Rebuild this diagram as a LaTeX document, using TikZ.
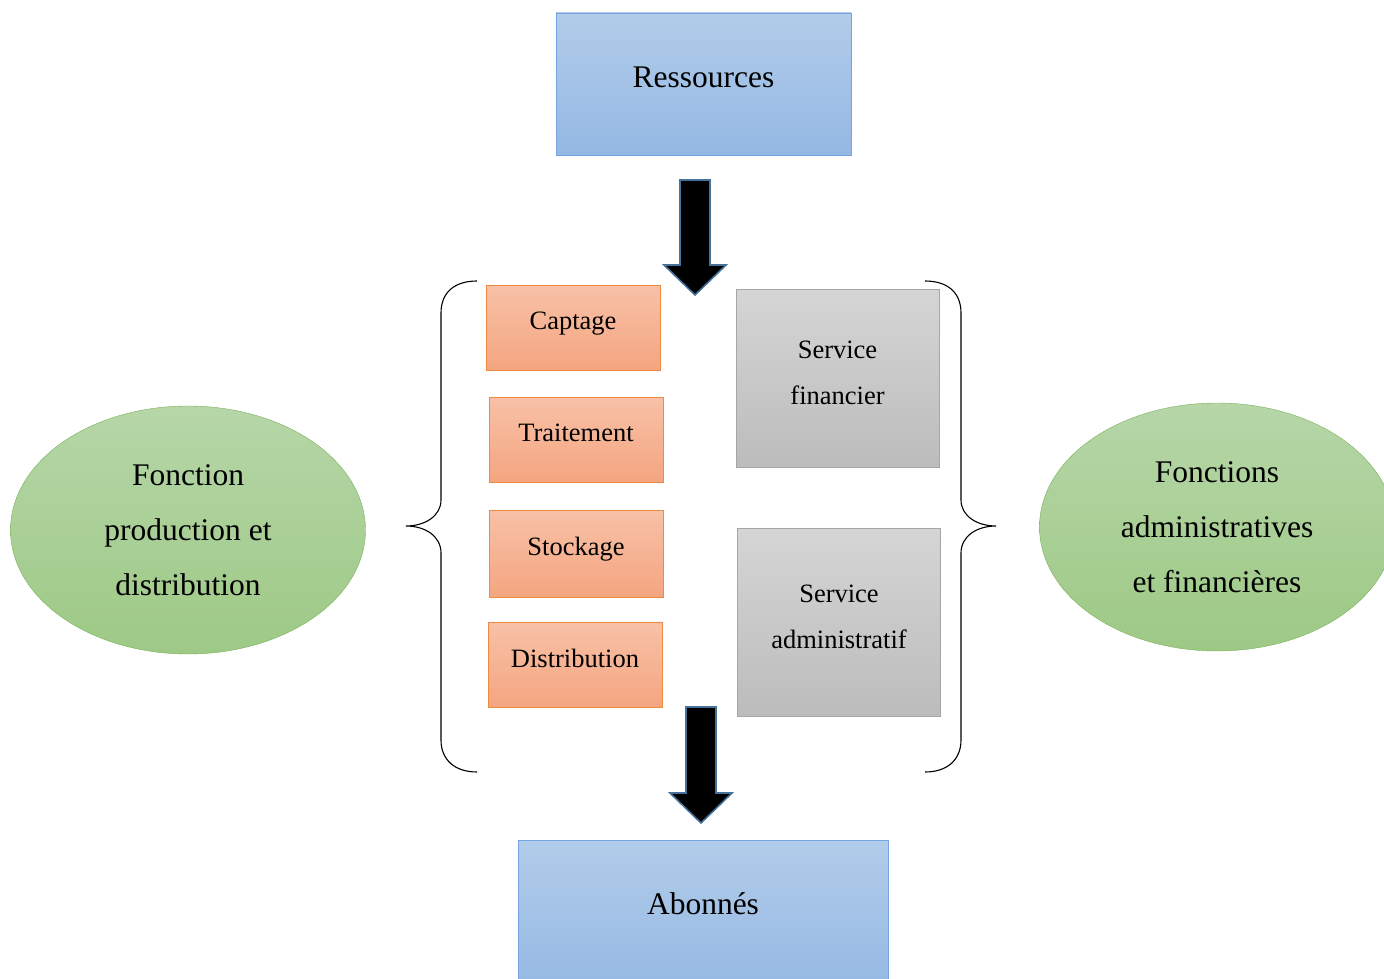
\documentclass[tikz,border=0pt]{standalone}
\usepackage{fontspec}
\setmainfont{Liberation Serif}
\usetikzlibrary{shapes.geometric}

\definecolor{blueTop}{HTML}{B2CCEA}
\definecolor{blueBot}{HTML}{94B8E3}
\definecolor{blueLine}{HTML}{74A5DF}
\definecolor{orangeTop}{HTML}{F8C1A7}
\definecolor{orangeBot}{HTML}{F4A580}
\definecolor{orangeLine}{HTML}{EF8A42}
\definecolor{greyTop}{HTML}{D5D5D5}
\definecolor{greyBot}{HTML}{BCBCBC}
\definecolor{greyLine}{HTML}{A6A6A6}
\definecolor{greenTop}{HTML}{B6D6A8}
\definecolor{greenBot}{HTML}{9DC985}
\definecolor{greenLine}{HTML}{7AB15A}
\definecolor{arrowLine}{HTML}{46719B}

\tikzset{
  endbox/.style={draw=blueLine, top color=blueTop, bottom color=blueBot,
    minimum width=#1, inner sep=0pt, font=\fontsize{31.5}{36}\selectfont},
  stagebox/.style={draw=orangeLine, top color=orangeTop, bottom color=orangeBot,
    minimum width=174pt, minimum height=#1, inner sep=0pt,
    text height=18pt, text depth=14pt,
    font=\fontsize{26.5}{30}\selectfont},
  servicebox/.style={draw=greyLine, top color=greyTop, bottom color=greyBot,
    minimum width=203pt, minimum height=#1, inner sep=0pt, align=center,
    text depth=10.5pt, font=\fontsize{26.5}{46}\selectfont},
  rolebubble/.style={ellipse, draw=greenLine, top color=greenTop, bottom color=greenBot,
    minimum width=355pt, minimum height=248pt, inner sep=0pt, align=center,
    font=\fontsize{31.5}{55}\selectfont},
  bigarrow/.style={draw=arrowLine, line width=1.6pt, fill=black, line join=miter},
  curly/.style={draw=black, line width=1.1pt}
}

% Block arrow pointing down: #1 start coordinate, #2 shaft length, #3 head length
\newcommand{\downblock}[3]{
  \draw[bigarrow] (#1) ++(-15,0) -- ++(30,0) -- ++(0,#2) -- ++(16,0)
    -- ++(-31,#3) -- ++(-31,-#3) -- ++(16,0) -- cycle;
}

% Curly brace: #1 end x, #2 side (-1 left, 1 right)
\newcommand{\sidebrace}[2]{
  \draw[curly] (#1,281) .. controls ({#1+#2*22},281) and ({#1+#2*36},292) .. ({#1+#2*36},313)
    -- ({#1+#2*36},500) .. controls ({#1+#2*36},516) and ({#1+#2*52},526) .. ({#1+#2*71},526)
    .. controls ({#1+#2*52},526) and ({#1+#2*36},536) .. ({#1+#2*36},553)
    -- ({#1+#2*36},740) .. controls ({#1+#2*36},760) and ({#1+#2*22},772) .. (#1,772);
}

\begin{document}
\begin{tikzpicture}[x=1pt, y=-1pt]

% Page frame
\clip (0,0) rectangle (1384,979);

% Input and output
\node[endbox=295pt, text height=75pt, text depth=67pt, anchor=base] (res) at (703.5,88) {Ressources};
\node[endbox=370pt, text height=74pt, text depth=80pt, anchor=base] (abo) at (703,914) {Abonnés};

% Production stages
\node[stagebox=85pt] (cap) at (573,327.5) {Captage};
\node[stagebox=85pt] (tra) at (576,439.5) {Traitement};
\node[stagebox=87pt] (sto) at (576,553.5) {Stockage};
\node[stagebox=85pt] (dis) at (575,665) {Distribution};

% Services
\node[servicebox=178pt] (fin) at (837.5,378) {Service\\financier};
\node[servicebox=188pt] (adm) at (839,622) {Service\\administratif};

% Functions
\node[rolebubble] (prod) at (188,530) {Fonction\\production et\\distribution};
\node[rolebubble] (admf) at (1217,527) {Fonctions\\administratives\\et financières};

% Braces
\sidebrace{477}{-1}
\sidebrace{925}{1}

% Flow arrows
\coordinate (flowin) at (695,180);
\coordinate (flowout) at (701,707);
\downblock{flowin}{85}{30}
\downblock{flowout}{86}{30}

\end{tikzpicture}
\end{document}
